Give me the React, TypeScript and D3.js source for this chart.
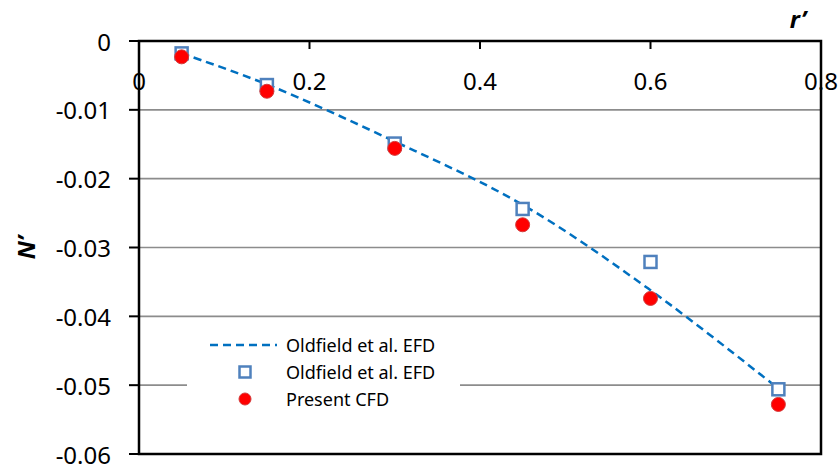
import React from 'react';
import * as d3 from 'd3';

// r' positions of the measured points
const rValues = [0.05, 0.15, 0.3, 0.45, 0.6, 0.75];
// Oldfield et al. EFD (squares)
const efdValues = [-0.0018, -0.0064, -0.0149, -0.0244, -0.0321, -0.0506];
// Present CFD (red circles)
const cfdValues = [-0.0023, -0.0073, -0.0156, -0.0267, -0.0374, -0.0528];
// Oldfield et al. EFD fitted curve (dashed)
const efdCurve = [-0.0018, -0.0063, -0.0146, -0.0238, -0.0362, -0.0505];

const xTicks = [0, 0.2, 0.4, 0.6, 0.8];
const yTicks = [0, -0.01, -0.02, -0.03, -0.04, -0.05, -0.06];
const yTickLabels = ['0', '-0.01', '-0.02', '-0.03', '-0.04', '-0.05', '-0.06'];
const legendLabels = ['Oldfield et al. EFD', 'Oldfield et al. EFD', 'Present CFD'];

const W = 840;
const H = 471;
const font = '"Noto Sans", "Open Sans", sans-serif';

const App: React.FC = () => {
  const x = d3.scaleLinear().domain([0, 0.8]).range([139, 821]);
  const y = d3.scaleLinear().domain([0, -0.06]).range([41, 454]);

  const line = d3.line<number>()
    .x((_, i) => x(rValues[i]))
    .y(d => y(d))
    .curve(d3.curveCatmullRom.alpha(0.5));

  const lx = 187, ly = 345, lstep = 27;

  return (
    <svg width={W} height={H} style={{ position: 'absolute', left: 0, top: 0, background: '#fff' }}>
      <rect width={W} height={H} fill="#fff" />

      {/* gridlines */}
      {yTicks.slice(1, -1).map(t => (
        <line key={t} x1={x(0)} x2={x(0.8)} y1={y(t)} y2={y(t)} stroke="#8c8c8c" strokeWidth={1.6} />
      ))}

      {/* legend background */}
      <rect x={lx} y={328} width={273} height={86} fill="#fff" />

      {/* plot border */}
      <rect x={x(0)} y={y(0)} width={x(0.8) - x(0)} height={y(-0.06) - y(0)} fill="none" stroke="#000" strokeWidth={2.5} />

      {/* x ticks (inside, top axis) */}
      {xTicks.map(t => (
        <g key={t}>
          <line x1={x(t)} x2={x(t)} y1={y(0)} y2={y(0) + 8} stroke="#000" strokeWidth={2} />
          <text x={x(t)} y={80} textAnchor="middle" dominantBaseline="central"
            fontFamily={font} fontSize={24} fill="#000">{t}</text>
        </g>
      ))}

      {/* y ticks */}
      {yTicks.map((t, i) => (
        <g key={t}>
          <line x1={x(0) - 10} x2={x(0)} y1={y(t)} y2={y(t)} stroke="#000" strokeWidth={2} />
          <text x={111} y={y(t)} textAnchor="end" dominantBaseline="central"
            fontFamily={font} fontSize={24} fill="#000">{yTickLabels[i]}</text>
        </g>
      ))}

      {/* axis titles */}
      <text x={798} y={18} textAnchor="middle" dominantBaseline="central" fontFamily={font}
        fontSize={24} fontWeight="bold" fontStyle="italic">r’</text>
      <text transform={`translate(25, ${y(-0.03)}) rotate(-90)`} textAnchor="middle" dominantBaseline="central"
        fontFamily={font} fontSize={24} fontWeight="bold" fontStyle="italic">N’</text>

      {/* dashed curve */}
      <path d={line(efdCurve) || ''} fill="none" stroke="#0070c0" strokeWidth={2.5} strokeDasharray="8,5" />

      {/* squares */}
      {efdValues.map((v, i) => (
        <rect key={i} x={x(rValues[i]) - 6} y={y(v) - 6} width={12} height={12}
          fill="#fff" stroke="#4f81bd" strokeWidth={2.5} />
      ))}

      {/* circles */}
      {cfdValues.map((v, i) => (
        <circle key={i} cx={x(rValues[i])} cy={y(v)} r={7} fill="#ff0000" stroke="#d43a3a" strokeWidth={1} />
      ))}

      {/* legend */}
      <line x1={210} x2={277} y1={ly} y2={ly} stroke="#0070c0" strokeWidth={2.5} strokeDasharray="8,5" />
      <rect x={245 - 5.5} y={ly + lstep - 5.5} width={11} height={11} fill="#fff" stroke="#4f81bd" strokeWidth={2.5} />
      <circle cx={245} cy={ly + 2 * lstep} r={6} fill="#ff0000" stroke="#d43a3a" strokeWidth={1} />
      {legendLabels.map((s, i) => (
        <text key={i} x={286} y={ly + i * lstep} dominantBaseline="central" fontFamily={font}
          fontSize={18} fill="#000">{s}</text>
      ))}
    </svg>
  );
};

export default App;
